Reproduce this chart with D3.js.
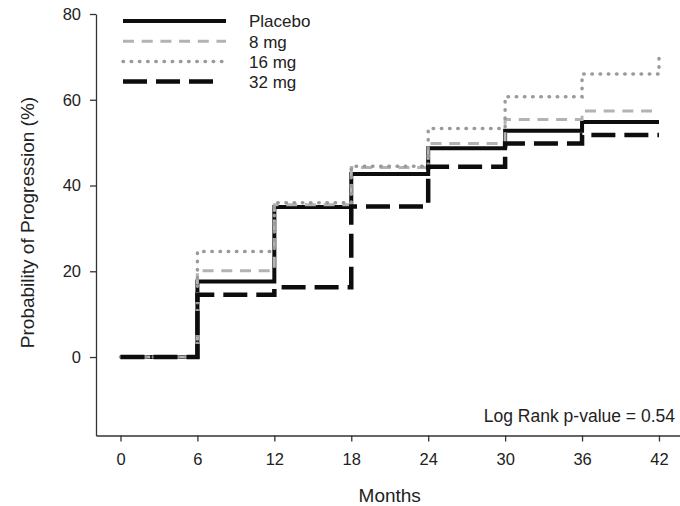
<!DOCTYPE html>
<html>
<head>
<meta charset="utf-8">
<script src="https://cdn.jsdelivr.net/npm/d3@7"></script>
<style>
  body { margin: 0; background: #fff; }
  svg { display: block; font-family: Arial, "Liberation Sans", sans-serif; }
  .axis path, .axis line { stroke: #333; stroke-width: 1.3; }
  .axis text { fill: #222; font-size: 16.5px; }
</style>
</head>
<body>
<div id="wrap"></div>
<script>
//  Visit months (x) and the step values of each arm
const months = [0, 6, 12, 18, 24, 30, 36, 42];
const placebo = [0, 17.6, 35.0, 42.7, 48.7, 52.8, 54.8, 54.8];
const mg8 = [0, 20.1, 35.5, 44.2, 49.8, 55.4, 57.4, 57.4];
const mg16 = [0, 24.6, 36.0, 44.5, 53.3, 60.7, 66.0, 70.0];
const mg32 = [0, 14.5, 16.3, 35.1, 44.4, 49.8, 51.8, 51.8];
const seriesNames = ["Placebo", "8 mg", "16 mg", "32 mg"];
const xTicks = [0, 6, 12, 18, 24, 30, 36, 42];
const yTicks = [0, 20, 40, 60, 80];

//  line style for each arm (same order as seriesNames)
const styles = [
  { color: "#0d0d0d", width: 4, dash: null, cap: "butt" },
  { color: "#b3b3b3", width: 3, dash: "11,7.7", cap: "butt" },
  { color: "#9a9a9a", width: 3.5, dash: "0.5,7.7", cap: "round" },
  { color: "#0d0d0d", width: 4.5, dash: "24,9", cap: "butt" },
];
const allSeries = [placebo, mg8, mg16, mg32];

const W = 680, H = 506;

const svg = d3.select("#wrap").append("svg")
  .attr("width", W)
  .attr("height", H);

const x = d3.scaleLinear().domain([-1.91, 43.64]).range([96, 680]);
const y = d3.scaleLinear().domain([-18.3, 80]).range([435.5, 14]);

//  axes
svg.append("g")
  .attr("class", "axis")
  .attr("transform", "translate(0," + y(-18.3) + ")")
  .call(d3.axisBottom(x).tickValues(xTicks).tickSize(6).tickSizeOuter(0).tickPadding(12))
  .call(g => g.selectAll("text").attr("font-family", null));

svg.append("g")
  .attr("class", "axis")
  .attr("transform", "translate(" + x(-1.91) + ",0)")
  .call(d3.axisLeft(y).tickValues(yTicks).tickSize(6).tickSizeOuter(0).tickPadding(9))
  .call(g => g.selectAll("text").attr("font-family", null));

//  axis titles
svg.append("text")
  .attr("x", (x(0) + x(42)) / 2)
  .attr("y", 502)
  .attr("text-anchor", "middle")
  .style("font-size", "19px")
  .style("fill", "#222")
  .text("Months");

svg.append("text")
  .attr("transform", "translate(34,222.5) rotate(-90)")
  .attr("text-anchor", "middle")
  .style("font-size", "19px")
  .style("fill", "#222")
  .text("Probability of Progression (%)");

//  step curves
const line = d3.line()
  .x((d, i) => x(months[i]))
  .y(d => y(d))
  .curve(d3.curveStepAfter);

allSeries.forEach((vals, i) => {
  const s = styles[i];
  svg.append("path")
    .attr("d", line(vals))
    .attr("fill", "none")
    .attr("stroke", s.color)
    .attr("stroke-width", s.width)
    .attr("stroke-dasharray", s.dash)
    .attr("stroke-linecap", s.cap);
});

//  legend
const legend = svg.append("g");
seriesNames.forEach((name, i) => {
  const s = styles[i];
  const ly = 21 + i * 20.2;
  legend.append("line")
    .attr("x1", 123)
    .attr("x2", i === 3 ? 214 : 226)
    .attr("y1", ly)
    .attr("y2", ly)
    .attr("stroke", s.color)
    .attr("stroke-width", s.width)
    .attr("stroke-dasharray", s.dash)
    .attr("stroke-linecap", s.cap);
  legend.append("text")
    .attr("x", 249)
    .attr("y", ly + 6.3)
    .style("font-size", "17px")
    .style("fill", "#222")
    .text(name);
});

svg.append("text")
  .attr("x", 675)
  .attr("y", 421.5)
  .attr("text-anchor", "end")
  .style("font-size", "17.5px")
  .style("fill", "#222")
  .text("Log Rank p-value = 0.54");
</script>
</body>
</html>
